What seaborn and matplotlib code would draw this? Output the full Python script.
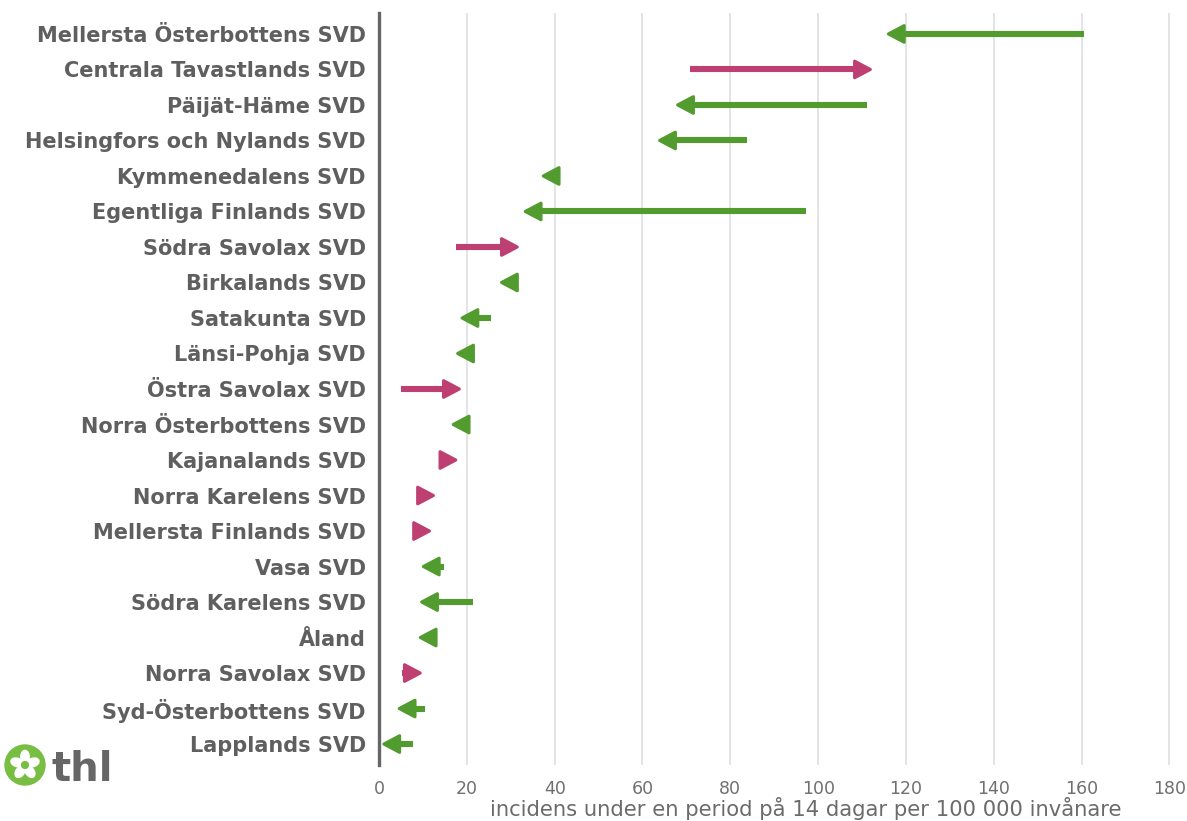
import numpy as np
import matplotlib
matplotlib.use("Agg")
import matplotlib.pyplot as plt
from matplotlib.patches import Circle, Ellipse
import seaborn as sns

regions = ["Mellersta Österbottens SVD", "Centrala Tavastlands SVD", "Päijät-Häme SVD",
           "Helsingfors och Nylands SVD", "Kymmenedalens SVD", "Egentliga Finlands SVD",
           "Södra Savolax SVD", "Birkalands SVD", "Satakunta SVD", "Länsi-Pohja SVD",
           "Östra Savolax SVD", "Norra Österbottens SVD", "Kajanalands SVD",
           "Norra Karelens SVD", "Mellersta Finlands SVD", "Vasa SVD", "Södra Karelens SVD",
           "Åland", "Norra Savolax SVD", "Syd-Österbottens SVD", "Lapplands SVD"]
previous = [160.5, 70.8, 111.2, 83.7, 40.5, 97.3, 17.5, 31.0, 25.6, 21.0, 5.1,
            20.0, 14.5, 9.5, 8.5, 14.8, 21.4, 12.5, 5.2, 10.5, 7.8]
current = [116.0, 111.9, 68.0, 63.9, 37.4, 33.3, 31.5, 27.9, 18.9, 17.9, 18.3,
           16.9, 17.5, 12.4, 11.5, 10.1, 9.7, 9.4, 9.4, 4.6, 1.1]
xticks = [0, 20, 40, 60, 80, 100, 120, 140, 160, 180]
xlabel = "incidens under en period på 14 dagar per 100 000 invånare"

green = "#519b2f"
pink = "#be3f72"
head_len = 3.6

sns.set_theme(style="whitegrid")
plt.rcParams["font.family"] = ["DejaVu Sans"]

fig = plt.figure(figsize=(11.87, 8.21), dpi=100)
ax = fig.add_axes([379 / 1187, 1 - 765 / 821, 1 - 379 / 1187, (765 - 13) / 821])

for i, (a, b) in enumerate(zip(previous, current)):
    col = pink if b > a else green
    d = 1 if b > a else -1
    base = b - d * head_len
    # shaft
    if (base - a) * d > 0:
        ax.hlines(i, a, base + d * 0.5, color=col, linewidth=4.4, capstyle="butt", zorder=3)
    # head
    ax.arrow(base, i, d * head_len, 0, width=0.0, head_width=0.47, head_length=head_len,
             length_includes_head=True, color=col, linewidth=2.2,
             joinstyle="round", zorder=3)

ax.set_xlim(0, 184)
ax.set_ylim(20.59, -0.59)
ax.set_xticks(xticks)
ax.set_xticklabels([str(t) for t in xticks], color="#707070", fontsize=12.5)
ax.set_yticks(range(len(regions)))
ax.set_yticklabels(regions, color="#5f5f5f", fontsize=15, fontweight="bold")
ax.tick_params(axis="x", length=0, pad=11)
ax.tick_params(axis="y", length=0, pad=9.5)
ax.grid(axis="y", visible=False)
ax.grid(axis="x", color="#e0e0e6", linewidth=1.3)
sns.despine(ax=ax, left=False, bottom=True, top=True, right=True)
ax.spines["left"].set_color("#666666")
ax.spines["left"].set_linewidth(2.4)
ax.spines["left"].set_zorder(4)
ax.set_xlabel(xlabel, color="#6b6b6b", fontsize=15.2)
ax.xaxis.set_label_coords(0.528, -0.042)

# thl logo
lax = fig.add_axes([4 / 1187, 1 - 786 / 821, 42 / 1187, 42 / 821])
lax.set_xlim(-1.05, 1.05)
lax.set_ylim(-1.05, 1.05)
lax.set_aspect("equal")
lax.axis("off")
lax.add_patch(Circle((0, 0), 1.0, color="#78be43"))
for k in range(5):
    ang = np.pi / 2 + k * 2 * np.pi / 5
    lax.add_patch(Ellipse((0.42 * np.cos(ang), 0.42 * np.sin(ang)), 0.62, 0.42,
                          angle=np.degrees(ang), color="white"))
lax.add_patch(Circle((0, 0), 0.17, color="#78be43"))
fig.text(52 / 1187, 1 - 781 / 821, "thl", fontsize=29, fontweight="bold",
         color="#666666", ha="left", va="baseline")

fig.savefig("out.png", dpi=100)
